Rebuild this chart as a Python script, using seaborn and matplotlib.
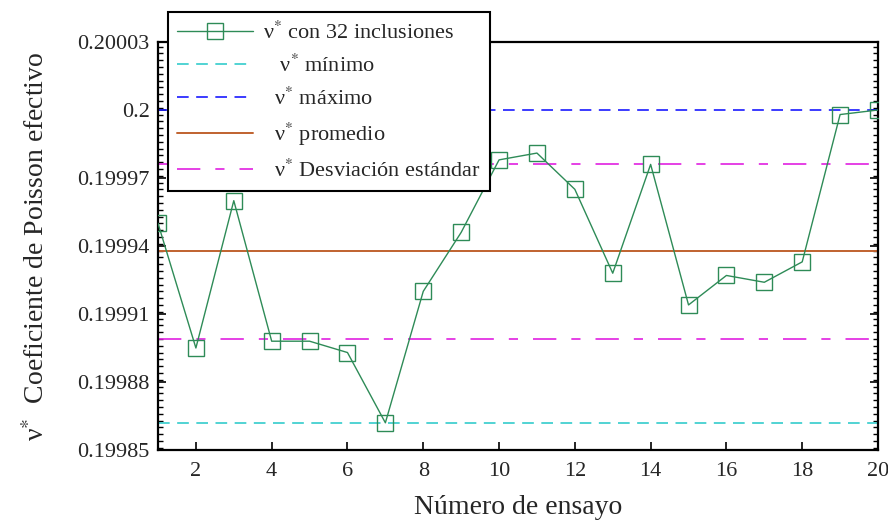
import numpy as np
import pandas as pd
import seaborn as sns
import matplotlib
matplotlib.use("Agg")
import matplotlib.pyplot as plt
from matplotlib.ticker import FixedLocator, FixedFormatter, MultipleLocator

# ---- data ----
trial = list(range(1, 21))
nu_values = [0.199950, 0.199895, 0.199960, 0.199898, 0.199898,
             0.199893, 0.199862, 0.199920, 0.199946, 0.199978,
             0.199981, 0.199965, 0.199928, 0.199976, 0.199914,
             0.199927, 0.199924, 0.199933, 0.199998, 0.2000]
nu_min = 0.199862
nu_max = 0.200000
nu_mean = 0.199938
std_low = 0.199899
std_high = 0.199976

y_ticks = [0.19985, 0.19988, 0.19991, 0.19994, 0.19997, 0.2, 0.20003]
y_ticklabels = ["0.19985", "0.19988", "0.19991", "0.19994", "0.19997", "0.2", "0.20003"]
x_ticks = [2, 4, 6, 8, 10, 12, 14, 16, 18, 20]

labels = ["ν$^{*}$ con 32 inclusiones", "   ν$^{*}$ mínimo", "  ν$^{*}$ máximo",
          "  ν$^{*}$ promedio", "  ν$^{*}$ Desviación estándar"]

sns.set_style("white")
plt.rcParams["font.family"] = ["Liberation Serif", "DejaVu Serif"]
plt.rcParams["mathtext.fontset"] = "stix"

df = pd.DataFrame({"trial": trial, "nu": nu_values})

fig = plt.figure(figsize=(8.88, 5.22), dpi=100)
ax = fig.add_axes([158/888, 1-450/522, (878-158)/888, (450-42)/522])

green = "#2e8b57"
sns.lineplot(data=df, x="trial", y="nu", ax=ax, color=green, lw=1.0,
             marker="s", markersize=11.5, markerfacecolor="none",
             markeredgecolor=green, markeredgewidth=1.0, label=labels[0], zorder=4)
ax.axhline(nu_min, color="#33cccc", lw=1.2, dashes=(7, 4.5), label=labels[1])
ax.axhline(nu_max, color="#1a1aff", lw=1.2, dashes=(7, 4.5), label=labels[2])
ax.axhline(nu_mean, color="#c0622f", lw=1.4, label=labels[3])
ax.axhline(std_high, color="#e020e0", lw=1.2, dashes=(14, 9, 5.5, 9), label=labels[4])
ax.axhline(std_low, color="#e020e0", lw=1.2, dashes=(14, 9, 5.5, 9))

ax.set_xlim(1, 20)
ax.set_ylim(0.19985, 0.20003)
ax.xaxis.set_major_locator(FixedLocator(x_ticks))
ax.yaxis.set_major_locator(FixedLocator(y_ticks))
ax.yaxis.set_major_formatter(FixedFormatter(y_ticklabels))
ax.yaxis.set_minor_locator(MultipleLocator(0.000003))

ax.tick_params(axis="both", which="major", direction="in", labelsize=16,
               length=6, width=1.2, color="black")
ax.tick_params(axis="y", which="both", left=True, right=True, direction="in")
ax.tick_params(axis="y", which="minor", length=3.5, width=1.0, color="black")
ax.tick_params(axis="x", which="major", bottom=True, top=False, pad=9)
ax.tick_params(axis="y", which="major", pad=6)

for s in ax.spines.values():
    s.set_color("black")
    s.set_linewidth(1.6)

ax.set_xlabel("Número de ensayo", fontsize=20, labelpad=10)
ax.set_ylabel("ν$^{*}$  Coeficiente de Poisson efectivo", fontsize=20, labelpad=20)

handles, labs = ax.get_legend_handles_labels()
leg = ax.legend(handles, labs, loc="upper left",
                bbox_to_anchor=(168/888, 1-12/522), bbox_transform=fig.transFigure,
                fontsize=16, frameon=True, fancybox=False, framealpha=1,
                edgecolor="black", borderaxespad=0, handlelength=3.4,
                handletextpad=0.45, labelspacing=0.5, borderpad=0.42, numpoints=1)
leg.get_frame().set_linewidth(1.5)
leg.set_zorder(10)

fig.savefig("out.png", dpi=100)
